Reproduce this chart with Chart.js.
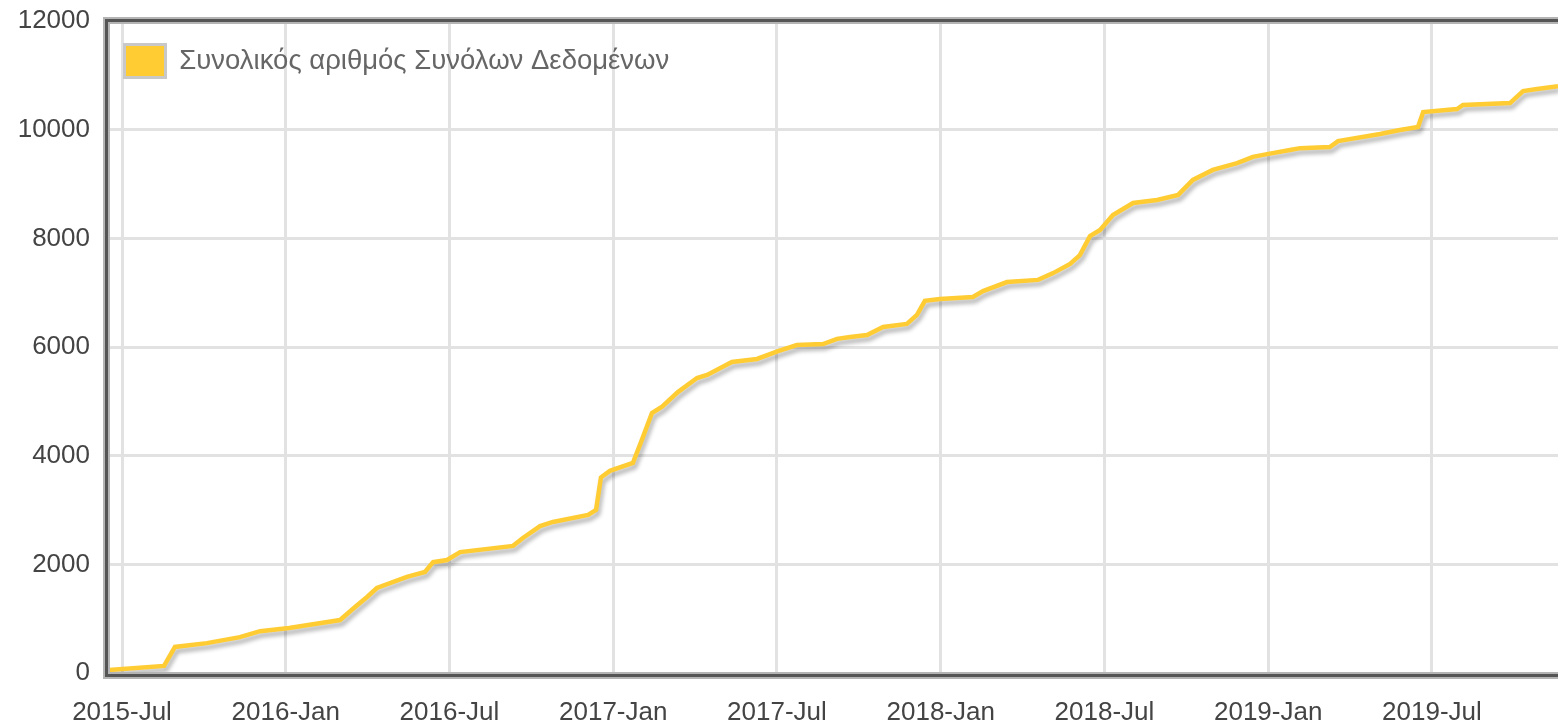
<!DOCTYPE html>
<html>
<head>
<meta charset="utf-8">
<script src="https://cdn.jsdelivr.net/npm/chart.js@4.4.1/dist/chart.umd.min.js"></script>
<style>
  html, body { margin: 0; padding: 0; background: #fff; }
</style>
</head>
<body>
<canvas id="datasetsChart" width="1558" height="725"></canvas>
<script>
// x values are months counted from 2015-Jul (0 = 2015-Jul, 6 = 2016-Jan, ...)
const monthOffsets = [
  -0.48, 1.54, 1.94, 3.11, 4.32, 5.06, 6.12, 7.99, 8.54, 8.98,
  9.34, 10.44, 11.10, 11.40, 11.91, 12.39, 14.33, 14.69, 15.32, 15.79,
  17.08, 17.37, 17.55, 17.88, 18.72, 19.05, 19.42, 19.79, 20.37, 21.07,
  21.44, 22.35, 23.27, 24.04, 24.73, 25.69, 26.20, 26.68, 27.30, 27.89,
  28.76, 29.13, 29.42, 29.97, 31.18, 31.55, 32.43, 33.57, 34.12, 34.74,
  35.10, 35.47, 35.84, 36.31, 37.05, 37.93, 38.70, 39.24, 39.97, 40.86,
  41.44, 41.96, 42.80, 43.17, 44.26, 44.56, 46.10, 46.83, 47.49, 47.68,
  48.92, 49.14, 50.86, 51.34, 51.85, 52.62
];
const datasetTotals = [
  55, 130, 480, 550, 660, 770, 830, 975, 1215, 1400,
  1565, 1770, 1860, 2040, 2080, 2225, 2340, 2485, 2705, 2780,
  2910, 3000, 3600, 3720, 3865, 4290, 4785, 4900, 5170, 5430,
  5485, 5725, 5780, 5925, 6037, 6055, 6150, 6185, 6220, 6370,
  6425, 6590, 6850, 6885, 6920, 7030, 7195, 7235, 7360, 7530,
  7690, 8040, 8155, 8430, 8650, 8705, 8800, 9075, 9260, 9385,
  9500, 9550, 9625, 9660, 9680, 9790, 9920, 9995, 10050, 10325,
  10380, 10455, 10490, 10710, 10750, 10800
];
const tickMonths = [0, 6, 12, 18, 24, 30, 36, 42, 48];
const tickLabels = ['2015-Jul', '2016-Jan', '2016-Jul', '2017-Jan', '2017-Jul',
                    '2018-Jan', '2018-Jul', '2019-Jan', '2019-Jul'];
const seriesLabel = 'Συνολικός αριθμός Συνόλων Δεδομένων';

const textColor = '#444';
const gridColor = '#e2e2e2';

// soft drop shadow under the line, like the original
const lineShadow = {
  id: 'lineShadow',
  beforeDatasetsDraw(chart) {
    const ctx = chart.ctx;
    ctx.save();
    ctx.shadowColor = 'rgba(0, 0, 0, 0.3)';
    ctx.shadowBlur = 4;
    ctx.shadowOffsetX = 2;
    ctx.shadowOffsetY = 4;
  },
  afterDatasetsDraw(chart) {
    chart.ctx.restore();
  }
};

// dark frame on top, left and bottom (right side runs off the picture)
const plotFrame = {
  id: 'plotFrame',
  afterDatasetsDraw(chart) {
    const { ctx, chartArea: a } = chart;
    const l = a.left - 0.5, t = a.top - 0.5, b = a.bottom + 2.5, r = a.right + 10;
    ctx.save();
    ctx.beginPath();
    ctx.moveTo(r, t);
    ctx.lineTo(l, t);
    ctx.lineTo(l, b);
    ctx.lineTo(r, b);
    ctx.strokeStyle = '#b4b4b4';
    ctx.lineWidth = 7;
    ctx.stroke();
    ctx.strokeStyle = '#555';
    ctx.lineWidth = 3;
    ctx.stroke();
    ctx.restore();
  }
};

const points = monthOffsets.map((m, i) => ({ x: m, y: datasetTotals[i] }));

new Chart(document.getElementById('datasetsChart'), {
  type: 'line',
  data: {
    datasets: [{
      label: seriesLabel,
      data: points,
      borderColor: '#ffcc33',
      backgroundColor: '#ffcc33',
      borderWidth: 4.5,
      pointRadius: 0,
      tension: 0,
      fill: false
    }]
  },
  options: {
    responsive: false,
    devicePixelRatio: 1,
    animation: false,
    layout: { padding: { top: 21, left: 0, right: 0, bottom: 0 } },
    plugins: {
      tooltip: { enabled: false },
      legend: {
        position: 'chartArea',
        align: 'start',
        // empty title only pushes the legend item down inside the plot
        title: { display: true, text: ' ', font: { size: 10 }, padding: 7.5 },
        labels: {
          boxWidth: 41,
          boxHeight: 33,
          padding: 17.5,
          color: textColor,
          font: { family: 'Liberation Sans', size: 27.5 },
          generateLabels: () => [{
            text: seriesLabel,
            fillStyle: '#ffcc33',
            strokeStyle: '#c8c8c8',
            lineWidth: 3,
            hidden: false,
            datasetIndex: 0
          }]
        }
      }
    },
    scales: {
      x: {
        type: 'linear',
        min: -0.55,
        max: 52.62,
        afterBuildTicks: axis => {
          axis.ticks = tickMonths.map(v => ({ value: v }));
        },
        afterFit: scale => { scale.height = 52; },
        border: { display: false },
        grid: { color: gridColor, lineWidth: 3, drawTicks: false },
        ticks: {
          autoSkip: false,
          maxRotation: 0,
          padding: 24,
          color: textColor,
          font: { family: 'Liberation Sans', size: 26 },
          callback: (value, index) => tickLabels[index]
        }
      },
      y: {
        min: 0,
        max: 12000,
        afterFit: scale => {
          scale.width = 107;
          scale.paddingTop = 0;
          scale.paddingBottom = 0;
        },
        border: { display: false },
        grid: { color: gridColor, lineWidth: 3, drawTicks: false },
        ticks: {
          stepSize: 2000,
          padding: 17,
          color: textColor,
          font: { family: 'Liberation Sans', size: 26 },
          callback: value => String(value)
        }
      }
    }
  },
  plugins: [lineShadow, plotFrame]
});
</script>
</body>
</html>
